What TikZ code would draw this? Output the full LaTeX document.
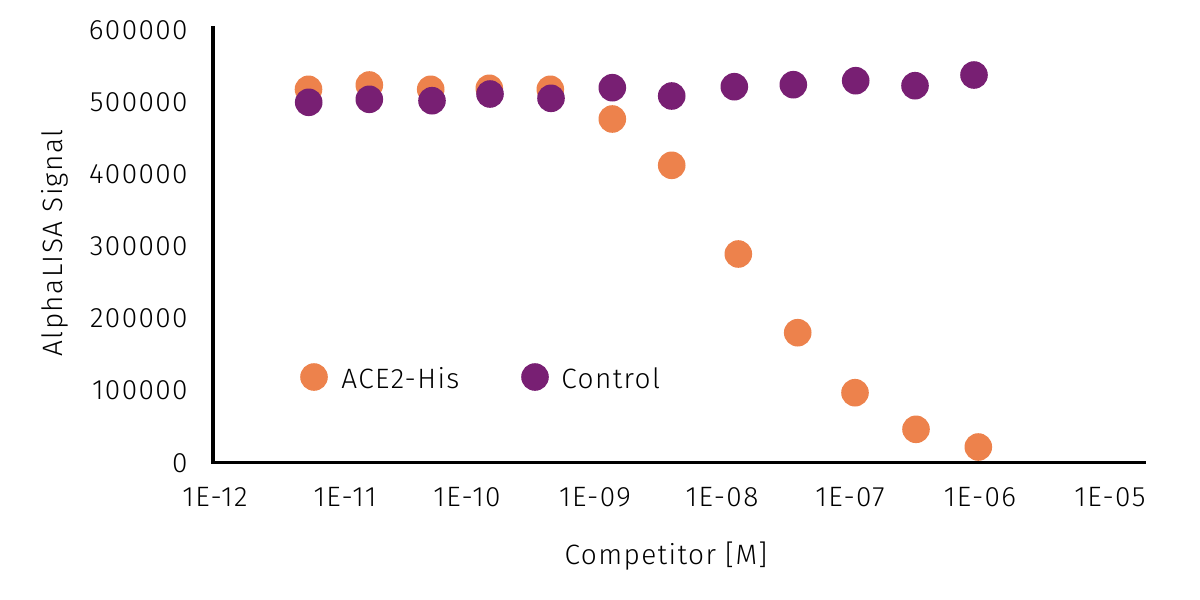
\documentclass[tikz,border=0pt]{standalone}
\usepackage{fontspec}
\setmainfont{Fira Sans}[UprightFont=* Light,LetterSpace=5]
\definecolor{ace}{RGB}{237,130,76}
\definecolor{ctl}{RGB}{120,31,115}
\begin{document}
\begin{tikzpicture}[x=0.5pt,y=-0.5pt,
  dot/.style={circle,inner sep=0pt,minimum size=13.8pt},
  ytick/.style={anchor=east,inner sep=0pt,font=\fontsize{14}{16}\selectfont},
  xtick/.style={anchor=center,inner sep=0pt,font=\fontsize{14}{16}\selectfont},
  lab/.style={inner sep=0pt,font=\fontsize{14}{16}\selectfont},
  axisline/.style={line width=1.6pt,black}]
\useasboundingbox[fill=white] (0,0) rectangle (1200,600);
% axes
\coordinate (ytop) at (213,26);
\coordinate (orig) at (213,462.5);
\coordinate (xend) at (1146,462.5);
\draw[axisline] (ytop) -- (orig) -- (xend);
% y ticks
\node[ytick] (y6) at (188,30) {600000};
\node[ytick] (y5) at (188,102) {500000};
\node[ytick] (y4) at (188,174) {400000};
\node[ytick] (y3) at (188,246) {300000};
\node[ytick] (y2) at (188,318) {200000};
\node[ytick] (y1) at (188,390) {100000};
\node[ytick] (y0) at (188,463) {0};
% x ticks
\node[xtick] (x12) at (215,497) {1E-12};
\node[xtick] (x11) at (345,497) {1E-11};
\node[xtick] (x10) at (467,497) {1E-10};
\node[xtick] (x9) at (595,497) {1E-09};
\node[xtick] (x8) at (722,497) {1E-08};
\node[xtick] (x7) at (850,497) {1E-07};
\node[xtick] (x6) at (980,497) {1E-06};
\node[xtick] (x5) at (1110,497) {1E-05};
% titles
\node[lab] (xt) at (666,556) {Competitor [M]};
\node[lab,rotate=90] (yt) at (55,243) {AlphaLISA Signal};
% ACE2-His points
\foreach \i/\x/\y in {1/308.5/89.3,2/369.3/85,3/430.7/89.3,4/489.3/88.3,5/550.3/89.3,6/612.3/119,7/671.7/165.3,8/738.3/254,9/797.7/332.7,10/855/392.7,11/916/429.3,12/978.3/447}
  \node[dot,fill=ace] (a\i) at (\x,\y) {};
% Control points
\foreach \i/\x/\y in {1/308.7/102.3,2/369.3/99.3,3/432/100.7,4/490/94,5/551/98.3,6/612.3/87.7,7/671.7/96,8/734.3/86.7,9/793.3/84.7,10/855.7/80.7,11/915/85.7,12/974/75}
  \node[dot,fill=ctl] (c\i) at (\x,\y) {};
% legend
\node[dot,fill=ace] (la) at (314,377) {};
\node[lab,anchor=west] (lta) at (341,378) {ACE2-His};
\node[dot,fill=ctl] (lc) at (535,377) {};
\node[lab,anchor=west] (ltc) at (561,378) {Control};
\end{tikzpicture}
\end{document}
